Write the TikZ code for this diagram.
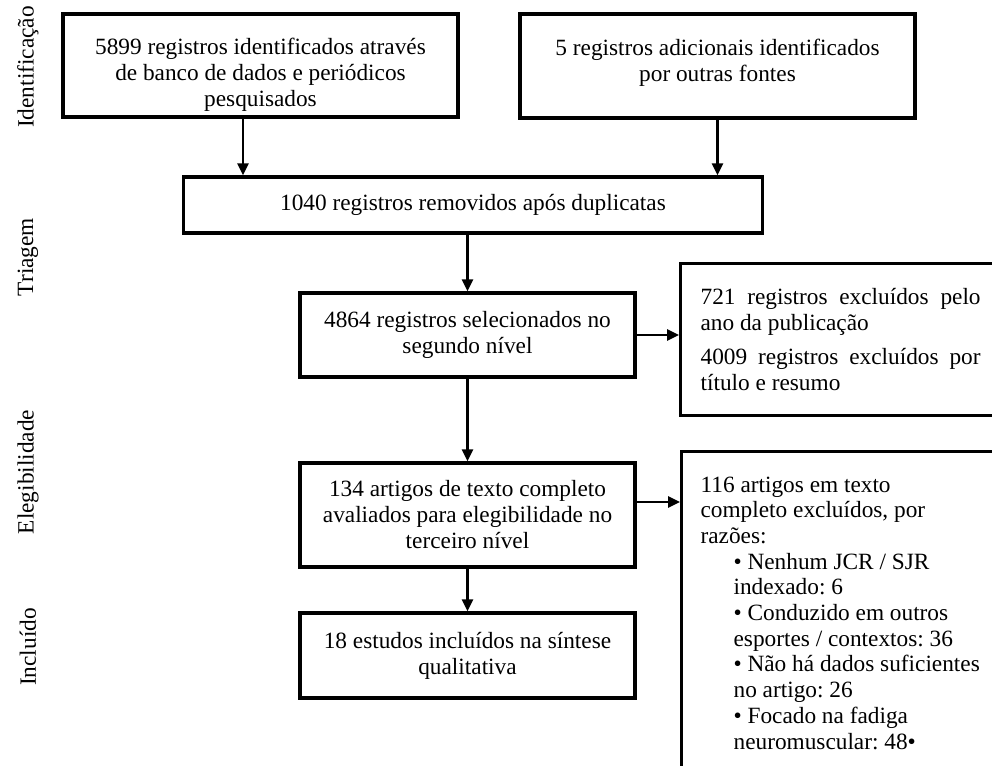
\documentclass[tikz,border=0pt]{standalone}
\usepackage{fontspec}
\setmainfont{Liberation Serif}
\usetikzlibrary{arrows.meta,positioning}
\frenchspacing

\begin{document}
\begin{tikzpicture}[x=1pt, y=-1pt, >={Triangle[length=12pt,width=11pt]},
    font=\fontsize{23.3}{26}\selectfont,
    box/.style={draw, line width=3.2pt, inner sep=0pt, align=center},
    txt/.style={inner sep=0pt, align=center},
    arr/.style={->, line width=2.6pt},
    phase/.style={rotate=90, inner sep=0pt}]
    \useasboundingbox (0,0) rectangle (992,765);
    \clip (0,0) rectangle (992,765);

    % Fases
    \node[phase] (fid) at (28,67) {Identificação};
    \node[phase] (ftri) at (28,257) {Triagem};
    \node[phase] (fele) at (28,472) {Elegibilidade};
    \node[phase] (finc) at (28,647) {Incluído};

    % Identificacao
    \node[box, minimum width=395pt, minimum height=103pt] (ident) at (260.5,65.5) {};
    \node[txt, anchor=north] (identtxt) at ([yshift=-25pt]ident.north) {5899 registros identificados através\\de banco de dados e periódicos\\pesquisados};
    \node[box, minimum width=395pt, minimum height=104pt] (extra) at (717.5,66) {};
    \node[txt, anchor=north] (extratxt) at ([yshift=-26pt]extra.north) {5 registros adicionais identificados\\por outras fontes};

    % Triagem
    \node[box, minimum width=579pt, minimum height=56pt] (remove) at (473,205) {1040 registros removidos após duplicatas};
    \node[box, minimum width=335pt, minimum height=84pt] (select) at (467.5,335) {4864 registros selecionados no\\segundo nível};
    \node[box, anchor=north west, minimum height=152pt, text width=280pt, inner xsep=20pt, align=flush left] (excl1) at (679,262)
          {\makebox[280pt][s]{721 registros excluídos pelo}\\ano da publicação\\[8pt]\makebox[280pt][s]{4009 registros excluídos por}\\título e resumo};

    % Elegibilidade
    \node[box, minimum width=335pt, minimum height=104pt] (assess) at (467.5,515) {134 artigos de texto completo\\avaliados para elegibilidade no\\terceiro nível};
    \node[box, anchor=north west, inner xsep=19pt, inner ysep=25pt, align=flush left,
          font=\fontsize{23.3}{25.7}\selectfont] (excl2) at (680,450)
          {116 artigos em texto\\completo excluídos, por\\razões:\\
           \hspace*{33pt}• Nenhum JCR / SJR\\\hspace*{33pt}indexado: 6\\
           \hspace*{33pt}• Conduzido em outros\\\hspace*{33pt}esportes / contextos: 36\\
           \hspace*{33pt}• Não há dados suficientes\\\hspace*{33pt}no artigo: 26\\
           \hspace*{33pt}• Focado na fadiga\\\hspace*{33pt}neuromuscular: 48•};

    % Incluido
    \node[box, minimum width=335pt, minimum height=85pt] (incl) at (467.5,655.5) {18 estudos incluídos na síntese\\qualitativa};

    % Setas
    \draw[arr] ([xshift=-17.5pt]ident.south) -- ([xshift=-17.5pt]ident.south |- remove.north);
    \draw[arr] (extra.south) -- (extra.south |- remove.north);
    \draw[arr] (select.north |- remove.south) -- (select.north);
    \draw[arr] (select.south) -- (assess.north);
    \draw[arr] (assess.south) -- (incl.north);
    \draw[arr] (select.east) -- (select.east -| excl1.west);
    \draw[arr] ([yshift=13pt]assess.east) -- ([yshift=13pt]assess.east -| excl2.west);
\end{tikzpicture}
\end{document}
